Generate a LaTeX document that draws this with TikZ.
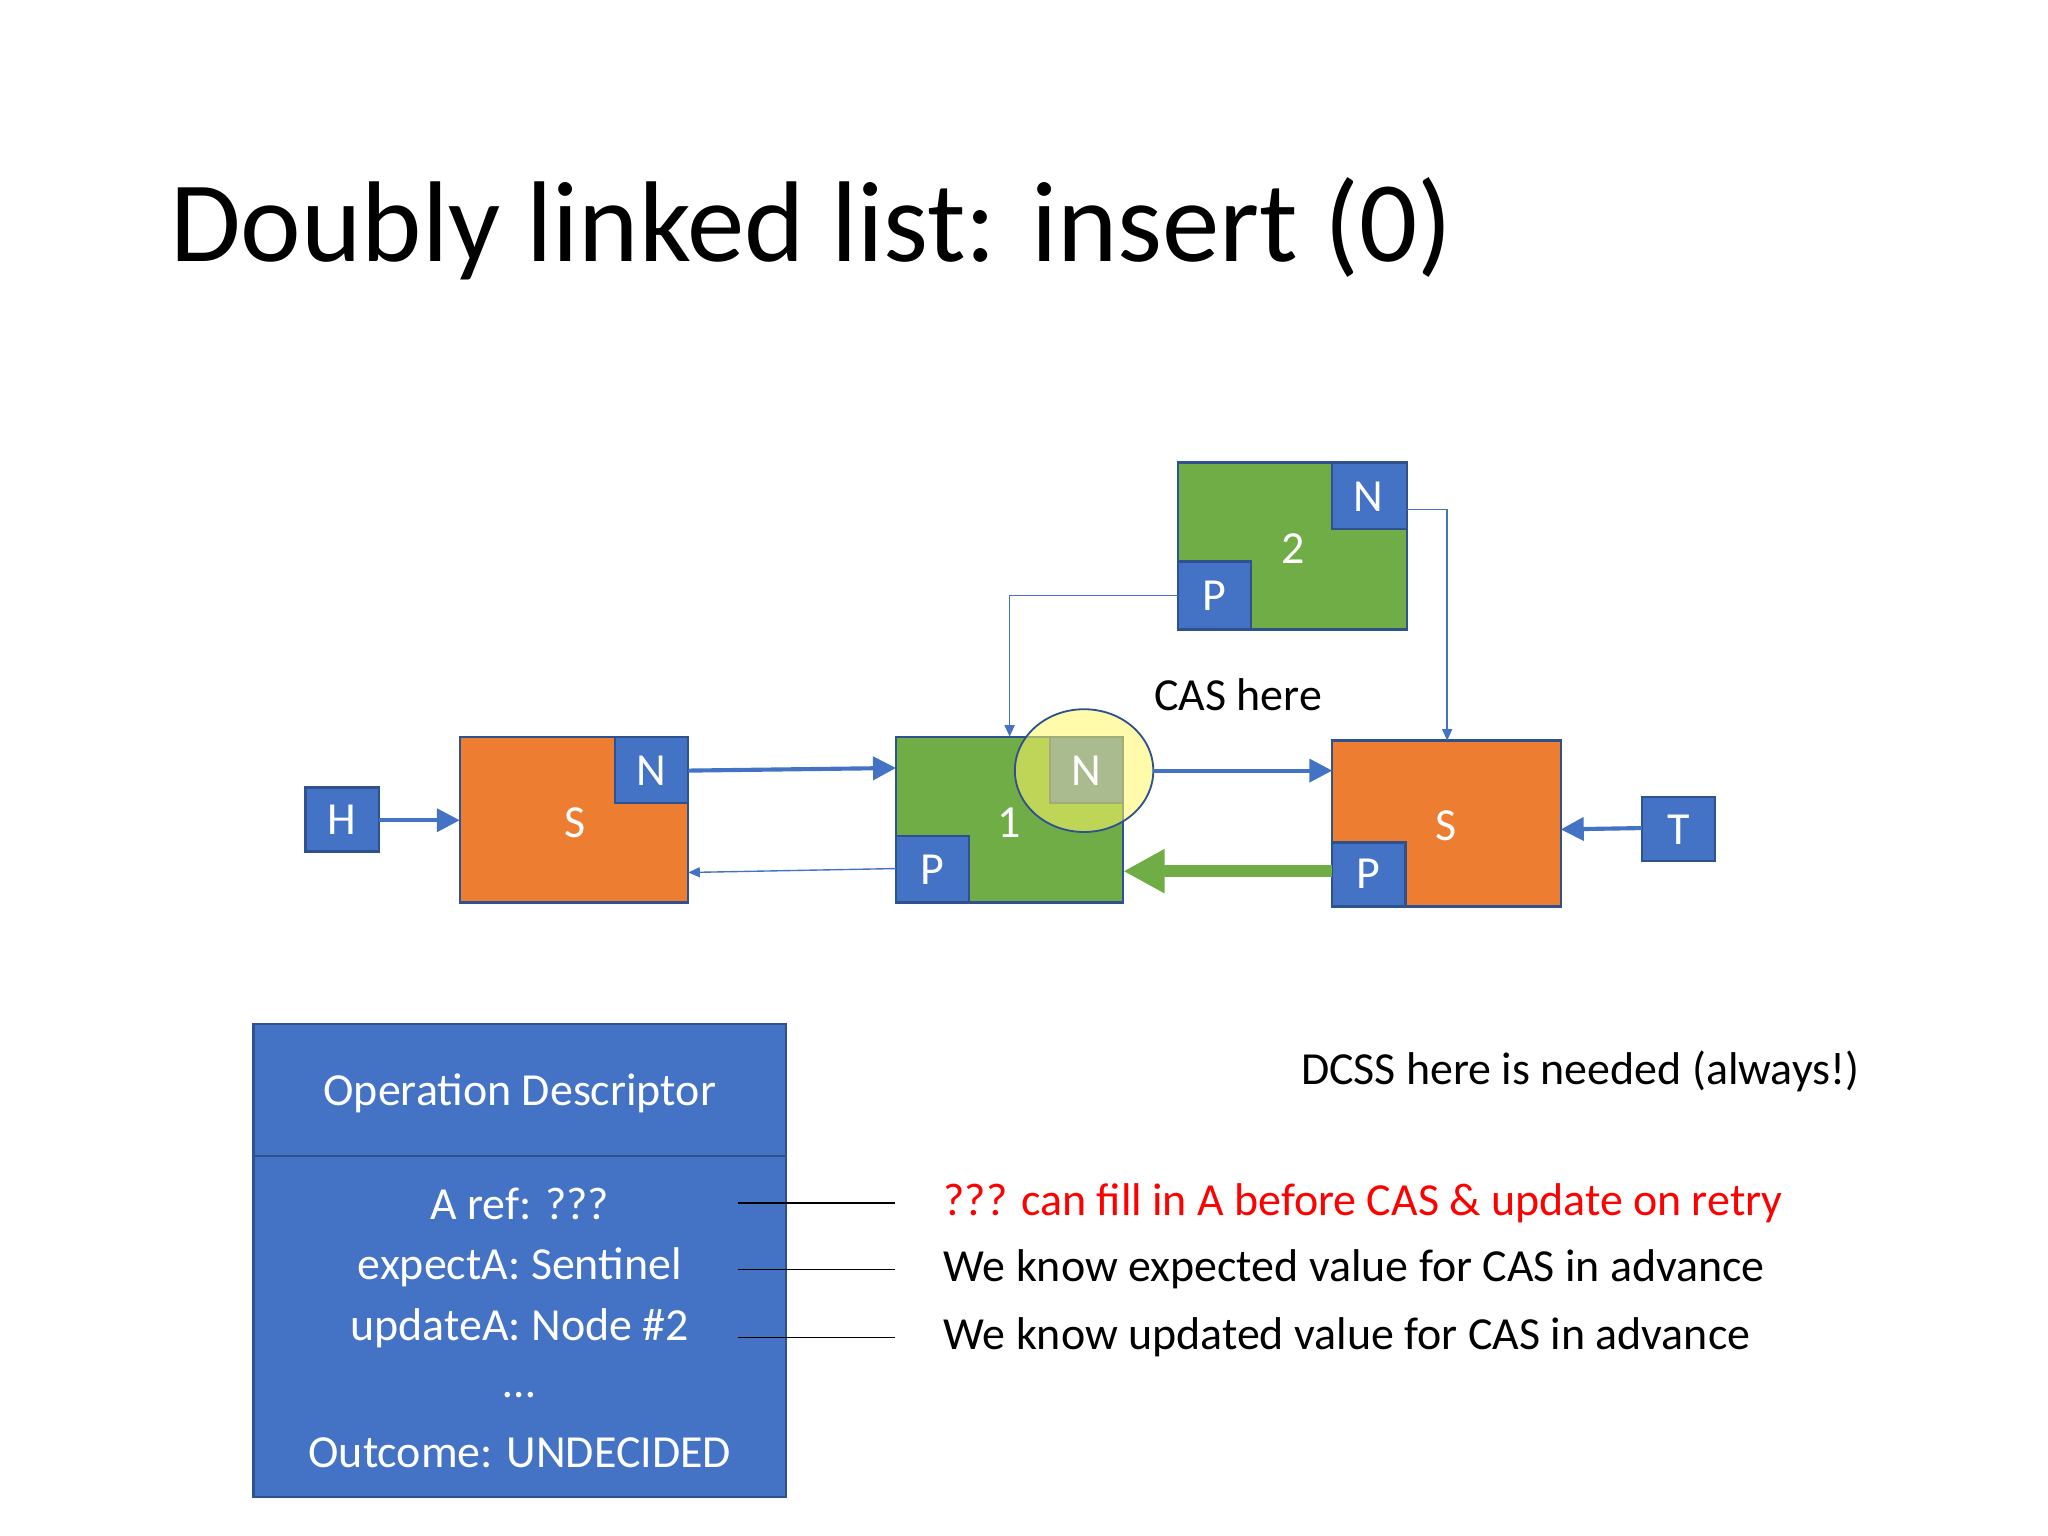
\documentclass[tikz,border=0pt]{standalone}
\usepackage{fontspec}
\setmainfont{Carlito}
\usetikzlibrary{arrows.meta}
\definecolor{ofblue}{HTML}{4472C4}
\definecolor{oforange}{HTML}{ED7D31}
\definecolor{ofgreen}{HTML}{70AD47}
\definecolor{ofedge}{HTML}{2F528F}
\tikzset{
  box/.style={draw=ofedge,line width=0.5pt},
  ptr/.style={box,fill=ofblue},
  lbl/.style={text=white,font=\fontsize{10}{12}\selectfont},
  thick link/.style={ofblue,line width=0.9pt,-{Triangle[length=5pt,width=5pt]}},
  thin link/.style={ofblue,line width=0.3pt,-{Triangle[length=2.5pt,width=2.2pt]}},
  note/.style={anchor=west,font=\fontsize{10}{12}\selectfont}
}
\begin{document}
\begin{tikzpicture}[x=0.01cm,y=-0.01cm]
  \useasboundingbox (0,0) rectangle (1568,1176);
  %% title
  \node[anchor=west,font=\fontsize{25}{30}\selectfont] (title) at (118,175) {Doubly linked list: insert (0)};

  %% list nodes
  \draw[box,fill=oforange] (352,564) rectangle (527,691);
  \draw[ptr] (471,564) rectangle (527,615);
  \node[lbl] (S1) at (440,630) {S};
  \node[lbl] (S1N) at (499,590) {N};
  \draw[box,fill=ofgreen] (686,564) rectangle (860,691);
  \draw[ptr] (686,640) rectangle (742,691);
  \node[lbl] (A1) at (773,630) {1};
  \node[lbl] (A1P) at (714,666) {P};
  \draw[box,fill=oforange] (1020,567) rectangle (1195,694);
  \draw[ptr] (1020,645) rectangle (1076,694);
  \node[lbl] (S2) at (1107,632) {S};
  \node[lbl] (S2P) at (1048,669) {P};
  \draw[box,fill=ofgreen] (902,354) rectangle (1077,482);
  \draw[ptr] (1020,354) rectangle (1077,405);
  \draw[ptr] (902,430) rectangle (958,482);
  \node[lbl] (B2) at (990,420) {2};
  \node[lbl] (B2N) at (1048,380) {N};
  \node[lbl] (B2P) at (930,456) {P};
  \draw[ptr] (234,603) rectangle (290,652);
  \node[lbl] (H) at (262,628) {H};
  \draw[ptr] (1257,610) rectangle (1313,659);
  \node[lbl] (T) at (1285,635) {T};
  %% CAS target
  \draw[box,fill=ofblue] (804,564) rectangle (860,615);
  \fill[yellow!60,opacity=0.55] (830,590) ellipse (53 and 47);
  \draw[ofedge,line width=0.4pt] (830,590) ellipse (53 and 47);
  \node[lbl] (A1N) at (832,590) {N};
  \node[font=\fontsize{10}{12}\selectfont] (cas) at (948,532) {CAS here};

  %% links
  \coordinate (hR) at (290,628);
  \coordinate (s1L) at (352,628);
  \draw[thick link] (hR) -- (s1L);
  \coordinate (s1nR) at (527,590);
  \coordinate (a1L) at (686,588);
  \draw[thick link] (s1nR) -- (a1L);
  \coordinate (a1nR) at (883,590);
  \coordinate (s2L) at (1020,590);
  \draw[thick link] (a1nR) -- (s2L);
  \coordinate (tL) at (1257,634);
  \coordinate (s2R) at (1195,635);
  \draw[thick link] (tL) -- (s2R);
  \coordinate (s2pL) at (1020,667);
  \coordinate (a1R) at (860,667);
  \draw[ofgreen,line width=2.6pt,-{Triangle[length=9pt,width=9pt]}] (s2pL) -- (a1R);
  \coordinate (a1pL) at (686,665);
  \coordinate (s1R) at (527,668);
  \draw[thin link] (a1pL) -- (s1R);
  \coordinate (b2pL) at (902,456);
  \coordinate (a1T) at (773,564);
  \draw[thin link] (b2pL) -| (a1T);
  \coordinate (b2nR) at (1077,390);
  \coordinate (s2T) at (1108,567);
  \draw[thin link] (b2nR) -| (s2T);

  %% descriptor
  \draw[box,fill=ofblue] (194,784) rectangle (602,1146);
  \draw[ofedge,line width=0.5pt] (194,885) -- (602,885);
  \node[lbl] (desc) at (398,837) {Operation Descriptor};
  \node[lbl] (aref) at (398,922) {A ref: ???};
  \node[lbl] (expA) at (398,970) {expectA: Sentinel};
  \node[lbl] (updA) at (398,1017) {updateA: Node \#2};
  \node[lbl] (dots) at (398,1068) {…};
  \node[lbl] (outc) at (398,1112) {Outcome: UNDECIDED};

  %% notes
  \node[anchor=east,font=\fontsize{10}{12}\selectfont] (dcss) at (1436,820) {DCSS here is needed (always!)};
  \node[note,text=red] (n1) at (710,921) {??? can fill in A before CAS \& update on retry};
  \node[note] (n2) at (710,972) {We know expected value for CAS in advance};
  \node[note] (n3) at (710,1024) {We know updated value for CAS in advance};
  \draw[line width=0.3pt] (565,921) -- (685,921);
  \draw[line width=0.3pt] (565,972) -- (685,972);
  \draw[line width=0.3pt] (565,1024) -- (685,1024);
\end{tikzpicture}
\end{document}
